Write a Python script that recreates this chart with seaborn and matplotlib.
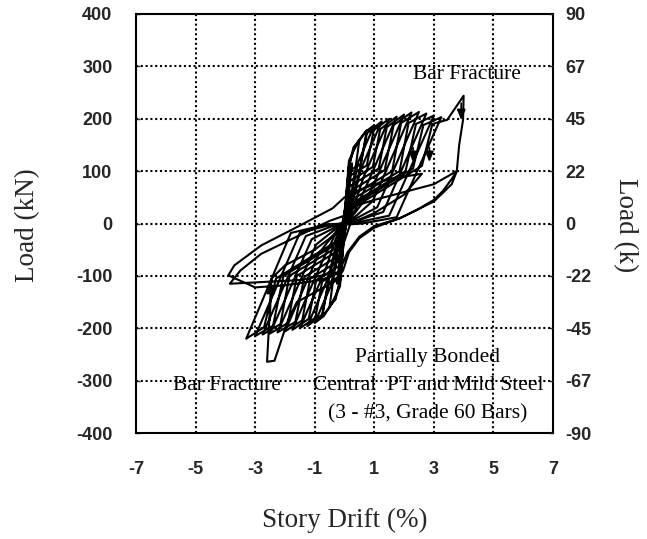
import numpy as np
import pandas as pd
import matplotlib
matplotlib.use("Agg")
import matplotlib.pyplot as plt
import seaborn as sns

# Axis ticks (drift in %, load in kN, right axis in kips)
x_ticks = [-7, -5, -3, -1, 1, 3, 5, 7]
y_ticks = [400, 300, 200, 100, 0, -100, -200, -300, -400]
kip_labels = ["90", "67", "45", "22", "0", "-22", "-45", "-67", "-90"]

# Load-drift history, one cycle per pair (drift %, load kN):
# positive excursion (loading, peak, unloading) then the negative excursion
c01_drift = [0, 0.12, 0.25, 0.15, 0.03, -0.12, -0.25, -0.15, -0.03]
c01_load = [0, 70, 115, 60, 5, -70, -115, -60, -5]

c02_drift = [0.05, 0.15, 0.3, 0.5, 0.38, 0.2, 0.06, -0.05, -0.15, -0.3, -0.5, -0.38, -0.2, -0.06]
c02_load = [40, 110, 145, 160, 110, 45, 8, -40, -110, -145, -158, -108, -44, -8]

c03_drift = [0.03, 0.15, 0.3, 0.5, 0.75, 0.5, 0.25, 0.07, -0.03, -0.15, -0.3, -0.5, -0.75, -0.5, -0.25, -0.07]
c03_load = [35, 110, 140, 160, 178, 100, 40, 6, -35, -110, -140, -160, -178, -100, -40, -6]

c04_drift = [0.03, 0.15, 0.4, 0.7, 1.0, 0.45, 0.2, 0.06, -0.03, -0.15, -0.4, -0.7, -1.0, -0.45, -0.2, -0.06]
c04_load = [35, 120, 150, 175, 188, 116, 40, 5, -35, -120, -150, -177, -190, -118, -40, -5]

c05_drift = [0.03, 0.15, 0.55, 0.75, 1.25, 0.55, 0.25, 0.07, -0.03, -0.15, -0.55, -0.75, -1.25, -0.55, -0.25, -0.07]
c05_load = [30, 100, 114, 172, 195, 104, 35, 5, -30, -100, -114, -174, -196, -104, -35, -5]

c06_drift = [0.03, 0.15, 0.75, 0.98, 1.5, 0.65, 0.3, 0.07, -0.03, -0.15, -0.75, -0.98, -1.5, -0.65, -0.3, -0.07]
c06_load = [28, 90, 111, 178, 200, 90, 30, 5, -28, -90, -111, -180, -200, -90, -30, -5]

c07_drift = [0.03, 0.15, 0.95, 1.2, 1.75, 0.75, 0.35, 0.07, -0.03, -0.15, -0.95, -1.2, -1.75, -0.75, -0.35, -0.07]
c07_load = [26, 80, 108, 180, 204, 74, 25, 4, -26, -80, -108, -182, -203, -73, -25, -4]

c08_drift = [0.03, 0.15, 1.15, 1.42, 2.0, 0.85, 0.35, 0.07, -0.03, -0.15, -1.15, -1.42, -2.0, -0.85, -0.35, -0.07]
c08_load = [24, 70, 105, 184, 208, 58, 20, 4, -24, -70, -105, -185, -206, -56, -20, -4]

c09_drift = [0.03, 0.15, 1.35, 1.65, 2.25, 0.95, 0.4, 0.07, -0.03, -0.15, -1.35, -1.65, -2.25, -0.95, -0.4, -0.07]
c09_load = [22, 60, 102, 188, 212, 43, 15, 3, -22, -60, -102, -188, -208, -40, -15, -3]

c10_drift = [0.03, 0.15, 1.6, 1.9, 2.5, 1.1, 0.4, 0.07, -0.03, -0.15, -1.6, -1.9, -2.5, -1.1, -0.4, -0.07]
c10_load = [20, 50, 100, 192, 213, 31, 10, 2, -20, -50, -100, -190, -210, -30, -10, -2]

c11_drift = [0.03, 0.15, 1.85, 2.15, 2.75, 1.3, 0.45, 0.07, -0.03, -0.15, -1.85, -2.15, -2.75, -1.3, -0.45, -0.07]
c11_load = [18, 42, 100, 192, 210, 22, 6, 1, -18, -42, -100, -192, -212, -24, -6, -1]

c12_drift = [0.03, 0.15, 2.05, 2.4, 3.0, 1.5, 0.5, 0.07, -0.03, -0.15, -2.05, -2.4, -3.0, -1.5, -0.5, -0.07]
c12_load = [16, 35, 100, 190, 206, 15, 3, 0, -16, -35, -100, -195, -215, -18, -3, 0]

c13_drift = [0.03, 0.15, 2.3, 2.65, 3.25, 1.75, 0.6, 0.07, -0.03, -0.15, -2.3, -2.7, -3.3, -1.8, -0.6, -0.07]
c13_load = [14, 30, 105, 188, 203, 12, 0, -2, -14, -30, -105, -198, -220, -18, -2, 0]

# Cycle in which the bars fracture (peak, drop, then fracture on the negative side)
frac_drift = [0.03, 0.15, 2.6, 2.95, 3.45, 4.0, 3.98, 3.85, 3.77, 3.6, 3.3, 3.0, 2.4,
              1.85, 1.0, 0.5, 0.15, -0.05, -0.3, -1.6, -1.9, -2.35, -2.6, -2.45]
frac_load = [12, 25, 110, 190, 198, 244, 198, 150, 100, 85, 62, 45, 25,
             10, -8, -28, -55, -90, -110, -150, -185, -262, -264, -105]

# Cycles after fracture, at reduced load
post_drift = [-2.0, -1.0, -0.3, 0.0, 0.15, 1.0, 2.0, 3.0, 3.77, 3.6, 3.0, 1.86, 1.0, 0.5, 0.1,
              -0.2, -0.8, -2.0, -3.0, -3.9, -3.7, -2.8, -1.5, -0.4, 0.0, 0.3, 1.5, 2.6, 2.0,
              1.0, 0.2, -0.1, -0.4, -1.5, -2.85, -3.85, -3.5, -2.8, -1.6, -0.5, 0.0]
post_load = [-80, -50, -20, 10, 30, 45, 60, 75, 100, 75, 42, 10, -5, -25, -55,
             -95, -108, -118, -122, -99, -80, -42, -4, 29, 50, 60, 85, 95, 55,
             20, 0, -50, -95, -108, -112, -115, -90, -58, -25, 5, 15]

segments = [
    (c01_drift, c01_load), (c02_drift, c02_load), (c03_drift, c03_load),
    (c04_drift, c04_load), (c05_drift, c05_load), (c06_drift, c06_load),
    (c07_drift, c07_load), (c08_drift, c08_load), (c09_drift, c09_load),
    (c10_drift, c10_load), (c11_drift, c11_load), (c12_drift, c12_load),
    (c13_drift, c13_load), (frac_drift, frac_load), (post_drift, post_load),
]
history = pd.DataFrame({
    "drift": np.concatenate([s[0] for s in segments]),
    "load": np.concatenate([s[1] for s in segments]),
})

sns.set_style("white")
plt.rcParams["font.family"] = ["Liberation Serif", "DejaVu Serif"]

fig = plt.figure(figsize=(6.47, 5.39), dpi=100)
ax = fig.add_axes([136 / 647, 1 - 433 / 539, 417 / 647, 419 / 539])

sns.lineplot(data=history, x="drift", y="load", sort=False, estimator=None,
             color="black", linewidth=1.5, ax=ax)

ax.set_xlim(-7, 7)
ax.set_ylim(-400, 400)
ax.set_xticks(x_ticks)
ax.set_yticks(y_ticks)
ax.set_xticklabels([str(t) for t in x_ticks])
ax.set_yticklabels([str(t) for t in y_ticks])
ax.set_xlabel("")
ax.set_ylabel("")

# dotted grid on the interior ticks
dot = (0, (1.0, 1.3))
for xv in x_ticks[1:-1]:
    ax.axvline(xv, color="black", linestyle=dot, linewidth=1.5, zorder=0)
for yv in y_ticks[1:-1]:
    ax.axhline(yv, color="black", linestyle=dot, linewidth=1.5, zorder=0)

for s in ax.spines.values():
    s.set_linewidth(1.5)
    s.set_color("black")

ax.tick_params(axis="x", length=0, pad=20)
ax.tick_params(axis="y", direction="in", length=3, width=1, pad=17)
for lab in ax.get_xticklabels() + ax.get_yticklabels():
    lab.set_fontfamily("Liberation Sans")
    lab.set_fontweight("bold")
    lab.set_fontsize(13)

ax2 = ax.twinx()
ax2.set_ylim(-400, 400)
ax2.set_yticks(y_ticks)
ax2.set_yticklabels(kip_labels)
ax2.tick_params(axis="y", direction="in", length=3, width=1, pad=9)
for lab in ax2.get_yticklabels():
    lab.set_fontfamily("Liberation Sans")
    lab.set_fontweight("bold")
    lab.set_fontsize(13)
for s in ax2.spines.values():
    s.set_visible(False)

# fracture arrows
arrow = dict(arrowstyle="-|>,head_length=0.6,head_width=0.25", color="black", lw=1.3)
ax.annotate("", xy=(3.92, 192), xytext=(3.92, 235), arrowprops=arrow)
ax.annotate("", xy=(2.3, 112), xytext=(2.3, 150), arrowprops=arrow)
ax.annotate("", xy=(2.85, 112), xytext=(2.85, 150), arrowprops=arrow)
ax.annotate("", xy=(-2.47, -108), xytext=(-2.5, -190), arrowprops=arrow)

txt = dict(fontsize=15.5, ha="center", va="center", color="black")
ax.text(4.1, 284, "Bar Fracture", **txt)
ax.text(-3.94, -309, "Bar Fracture", **txt)
ax.text(2.8, -256, "Partially Bonded", **txt)
ax.text(2.8, -309, "Central  PT and Mild Steel", **txt)
ax.text(2.8, -363, "(3 - #3, Grade 60 Bars)", **txt)

fig.text(28 / 647, 1 - 225 / 539, "Load (kN)", rotation=90, ha="center", va="center", fontsize=19.5)
fig.text(625 / 647, 1 - 225 / 539, "Load (k)", rotation=270, ha="center", va="center", fontsize=19.5)
fig.text(344.5 / 647, 1 - 520 / 539, "Story Drift (%)", ha="center", va="center", fontsize=19.5)

fig.savefig("out.png", dpi=100)
